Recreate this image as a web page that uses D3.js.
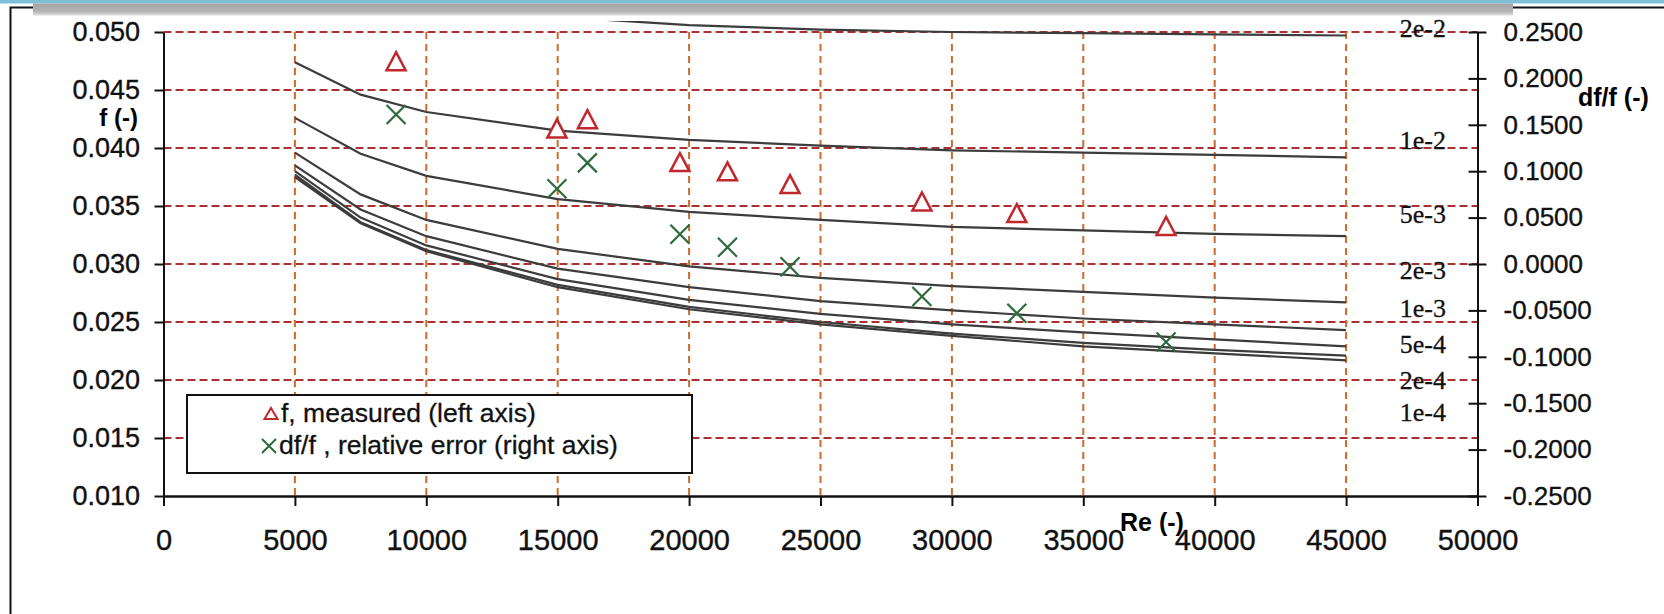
<!DOCTYPE html>
<html>
<head>
<meta charset="utf-8">
<script src="https://cdn.jsdelivr.net/npm/d3@7"></script>
<style>
  body { margin: 0; background: #fff; }
  svg { display: block; }
  .tick text { font-family: "Liberation Sans", Arial, sans-serif; fill: #111; stroke: #111; stroke-width: 0.35; }
</style>
</head>
<body>
<svg id="chart" width="1664" height="614"></svg>
<script>
// Re values at which the roughness curves were computed
var reNodes = [5000, 7500, 10000, 15000, 20000, 25000, 30000, 35000, 40000, 45000];

// relative roughness of each curve and its f values (left axis)
var roughness = ["2e-2", "1e-2", "5e-3", "2e-3", "1e-3", "5e-4", "2e-4", "1e-4"];
var f2e2 = [0.0555, 0.0535, 0.0524, 0.0513, 0.0506, 0.0502, 0.0500, 0.0499, 0.0498, 0.0497];
var f1e2 = [0.0474, 0.0446, 0.0431, 0.0415, 0.0407, 0.0402, 0.0398, 0.0396, 0.0394, 0.0392];
var f5e3 = [0.0426, 0.0395, 0.0376, 0.0356, 0.0345, 0.0338, 0.0332, 0.0329, 0.0326, 0.0324];
var f2e3 = [0.0396, 0.0360, 0.0338, 0.0313, 0.0298, 0.0288, 0.0281, 0.0276, 0.0271, 0.0267];
var f1e3 = [0.0385, 0.0347, 0.0324, 0.0296, 0.0280, 0.0268, 0.0260, 0.0253, 0.0248, 0.0243];
var f5e4 = [0.0380, 0.0340, 0.0316, 0.0287, 0.0269, 0.0257, 0.0248, 0.0241, 0.0235, 0.0229];
var f2e4 = [0.0377, 0.0336, 0.0312, 0.0282, 0.0263, 0.0250, 0.0240, 0.0232, 0.0226, 0.0221];
var f1e4 = [0.0375, 0.0335, 0.0311, 0.0280, 0.0261, 0.0248, 0.0238, 0.0229, 0.0223, 0.0217];
var curveValues = [f2e2, f1e2, f5e3, f2e3, f1e3, f5e4, f2e4, f1e4];

// where the roughness labels sit (Re, f)
var labelRe = 48800;
var labelF = [0.05034, 0.04069, 0.03431, 0.02948, 0.02621, 0.02310, 0.02000, 0.01724];

// measurements
var reMeas = [8850, 14970, 16130, 19650, 21460, 23840, 28860, 32470, 38150];
var fMeas = [0.0474, 0.0416, 0.0424, 0.0387, 0.0379, 0.0368, 0.0353, 0.0343, 0.0332];
var errMeas = [0.161, 0.081, 0.109, 0.032, 0.018, -0.003, -0.035, -0.053, -0.084];

// ticks
var xTicks = [0, 5000, 10000, 15000, 20000, 25000, 30000, 35000, 40000, 45000, 50000];
var leftTicks = [0.010, 0.015, 0.020, 0.025, 0.030, 0.035, 0.040, 0.045, 0.050];
var rightTicks = [-0.25, -0.20, -0.15, -0.10, -0.05, 0.00, 0.05, 0.10, 0.15, 0.20, 0.25];
var vGrid = [5000, 10000, 15000, 20000, 25000, 30000, 35000, 40000, 45000];
var hGrid = [0.015, 0.020, 0.025, 0.030, 0.035, 0.040, 0.045, 0.050];

var svg = d3.select("#chart");

var x = d3.scaleLinear().domain([0, 50000]).range([163.5, 1477.5]);
var yL = d3.scaleLinear().domain([0.010, 0.050]).range([496, 32]);
var yR = d3.scaleLinear().domain([-0.25, 0.25]).range([496, 32]);

// slide decoration: blue strip, frame, grey bar
svg.append("rect").attr("x", 0).attr("y", 0).attr("width", 1664).attr("height", 3.5).attr("fill", "#7dbfd7");
svg.append("path").attr("d", "M10.5,614V7.5H1664").attr("fill", "none").attr("stroke", "#111").attr("stroke-width", 2);

var grad = svg.append("defs").append("linearGradient").attr("id", "bar").attr("x1", 0).attr("y1", 0).attr("x2", 0).attr("y2", 1);
grad.append("stop").attr("offset", "0%").attr("stop-color", "#a3a3a3");
grad.append("stop").attr("offset", "65%").attr("stop-color", "#b4b4b4");
grad.append("stop").attr("offset", "100%").attr("stop-color", "#dedede");
svg.append("rect").attr("x", 33).attr("y", 3.5).attr("width", 1480).attr("height", 12).attr("fill", "url(#bar)");

svg.select("defs").append("clipPath").attr("id", "plotclip")
  .append("rect").attr("x", 0).attr("y", 21).attr("width", 1664).attr("height", 475);

// grid
svg.append("g").selectAll("line").data(hGrid).enter().append("line")
  .attr("x1", x(0)).attr("x2", x(50000))
  .attr("y1", function(d) { return yL(d); }).attr("y2", function(d) { return yL(d); })
  .attr("stroke", "#a83232").attr("stroke-width", 2).attr("stroke-dasharray", "8,4");

svg.append("g").selectAll("line").data(vGrid).enter().append("line")
  .attr("x1", function(d) { return x(d); }).attr("x2", function(d) { return x(d); })
  .attr("y1", yL(0.050)).attr("y2", yL(0.010))
  .attr("stroke", "#cc6a2c").attr("stroke-width", 2).attr("stroke-dasharray", "7,5");

// roughness curves
var line = d3.line()
  .x(function(d, i) { return x(reNodes[i]); })
  .y(function(d) { return yL(d); });

svg.append("g").attr("clip-path", "url(#plotclip)")
  .selectAll("path").data(curveValues).enter().append("path")
  .attr("d", line)
  .attr("fill", "none").attr("stroke", "#3c3c3c").attr("stroke-width", 2.2);

svg.append("g").selectAll("text").data(roughness).enter().append("text")
  .attr("x", x(labelRe))
  .attr("y", function(d, i) { return yL(labelF[i]); })
  .attr("dy", "0.35em")
  .attr("text-anchor", "end")
  .style("font-family", "'Liberation Serif', 'Times New Roman', serif")
  .style("font-size", "26px")
  .attr("fill", "#111").attr("stroke", "#111").attr("stroke-width", 0.3)
  .text(function(d) { return d; });

// axes
var leftAxis = svg.append("g").attr("transform", "translate(" + x(0) + ",0)")
  .call(d3.axisLeft(yL).tickValues(leftTicks).tickSize(9).tickSizeOuter(0).tickPadding(14.5)
    .tickFormat(function(d) { return d.toFixed(3); }));
leftAxis.selectAll(".tick text").style("font-size", "27px");

var bottomAxis = svg.append("g").attr("transform", "translate(0," + yL(0.010) + ")")
  .call(d3.axisBottom(x).tickValues(xTicks).tickSize(10).tickSizeOuter(0).tickPadding(23)
    .tickFormat(function(d) { return String(d); }));
bottomAxis.selectAll(".tick text").style("font-size", "29px");

var rightAxis = svg.append("g").attr("transform", "translate(" + x(50000) + ",0)")
  .call(d3.axisRight(yR).tickValues(rightTicks).tickSize(9).tickSizeOuter(0).tickPadding(17)
    .tickFormat(function(d) { return d.toFixed(4); }));
rightAxis.selectAll(".tick line").attr("x1", -9);
rightAxis.selectAll(".tick text").style("font-size", "26px");

[leftAxis, bottomAxis, rightAxis].forEach(function(a) {
  a.select(".domain").attr("stroke", "#111").attr("stroke-width", 2);
  a.selectAll(".tick line").attr("stroke", "#111").attr("stroke-width", 2);
});
bottomAxis.select(".domain").attr("stroke-width", 2.5);

// axis titles
var titleFont = "'Liberation Sans', Arial, sans-serif";
svg.append("text").attr("x", 138).attr("y", 126).attr("text-anchor", "end")
  .style("font-family", titleFont).style("font-size", "24px").style("font-weight", "bold").text("f (-)");
svg.append("text").attr("x", 1578).attr("y", 106)
  .style("font-family", titleFont).style("font-size", "25px").style("font-weight", "bold").text("df/f (-)");
svg.append("text").attr("x", 1152).attr("y", 531).attr("text-anchor", "middle")
  .style("font-family", titleFont).style("font-size", "25px").style("font-weight", "bold").text("Re (-)");

// legend
var legend = svg.append("g");
legend.append("rect").attr("x", 187).attr("y", 395).attr("width", 505).attr("height", 78)
  .attr("fill", "#fff").attr("stroke", "#111").attr("stroke-width", 2);
legend.append("path").attr("transform", "translate(271,414)").attr("d", "M0,-6L6.5,5L-6.5,5Z")
  .attr("fill", "#fff").attr("stroke", "#c0282e").attr("stroke-width", 2);
legend.append("path").attr("transform", "translate(269,446)").attr("d", "M-7,-7L7,7M7,-7L-7,7")
  .attr("stroke", "#2d6a3e").attr("stroke-width", 2);
legend.append("text").attr("x", 281).attr("y", 422)
  .style("font-family", titleFont).style("font-size", "26.5px")
  .attr("fill", "#111").attr("stroke", "#111").attr("stroke-width", 0.3).text("f, measured (left axis)");
legend.append("text").attr("x", 279).attr("y", 454)
  .style("font-family", titleFont).style("font-size", "26.5px")
  .attr("fill", "#111").attr("stroke", "#111").attr("stroke-width", 0.3).text("df/f , relative error (right axis)");

// measured points
svg.append("g").selectAll("path").data(reMeas).enter().append("path")
  .attr("transform", function(d, i) { return "translate(" + x(d) + "," + yL(fMeas[i]) + ")"; })
  .attr("d", "M0,-10L9.5,8L-9.5,8Z")
  .attr("fill", "#fff").attr("stroke", "#c0282e").attr("stroke-width", 2.5);

svg.append("g").selectAll("path").data(reMeas).enter().append("path")
  .attr("transform", function(d, i) { return "translate(" + x(d) + "," + yR(errMeas[i]) + ")"; })
  .attr("d", "M-9.5,-9.5L9.5,9.5M9.5,-9.5L-9.5,9.5")
  .attr("fill", "none").attr("stroke", "#2d6a3e").attr("stroke-width", 2.2);
</script>
</body>
</html>
